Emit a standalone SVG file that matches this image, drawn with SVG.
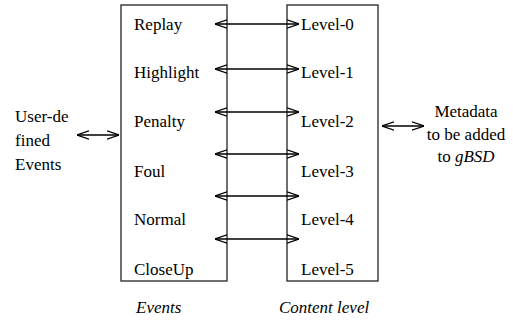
<svg xmlns="http://www.w3.org/2000/svg" width="513" height="320" viewBox="0 0 513 320">
<defs>
<marker id="ah" viewBox="0 0 12 10" refX="12" refY="5" markerWidth="12" markerHeight="10" markerUnits="userSpaceOnUse" orient="auto-start-reverse">
<path d="M0,0.8 L12,5 L0,9.2" fill="none" stroke="#000" stroke-width="1.3"/>
</marker>
<style>
text{font-family:"Liberation Serif","DejaVu Serif",serif;font-size:17px;fill:#000}
.it{font-style:italic}
.box{fill:#fff;stroke:#222;stroke-width:1.3}
.c{stroke:#000;stroke-width:1.4;fill:none;marker-start:url(#ah);marker-end:url(#ah)}
</style>
</defs>
<rect width="513" height="320" fill="#fff"/>
<g id="events">
<rect class="box" x="121" y="5" width="106" height="276"/>
<text x="134" y="30">Replay</text>
<text x="134" y="78">Highlight</text>
<text x="134" y="127">Penalty</text>
<text x="134" y="177">Foul</text>
<text x="134" y="225">Normal</text>
<text x="134" y="275">CloseUp</text>
</g>
<g id="levels">
<rect class="box" x="287" y="5" width="91" height="276"/>
<text x="301" y="30">Level-0</text>
<text x="301" y="78">Level-1</text>
<text x="301" y="127">Level-2</text>
<text x="301" y="177">Level-3</text>
<text x="301" y="225">Level-4</text>
<text x="301" y="275">Level-5</text>
</g>
<g id="user-events">
<text x="15" y="122">User-de</text>
<text x="15" y="146">fined</text>
<text x="15" y="170">Events</text>
</g>
<g id="metadata" text-anchor="middle">
<text x="466" y="117">Metadata</text>
<text x="466" y="140">to be added</text>
<text x="466" y="162">to <tspan class="it">gBSD</tspan></text>
</g>
<g id="captions">
<text class="it" x="136" y="313">Events</text>
<text class="it" x="279" y="313">Content level</text>
</g>
<g id="connectors">
<line class="c" x1="215" y1="24" x2="299" y2="24"/>
<line class="c" x1="215" y1="69" x2="299" y2="69"/>
<line class="c" x1="215" y1="112" x2="299" y2="112"/>
<line class="c" x1="215" y1="154" x2="299" y2="154"/>
<line class="c" x1="215" y1="196" x2="299" y2="196"/>
<line class="c" x1="215" y1="239" x2="299" y2="239"/>
<line class="c" x1="77" y1="135" x2="119" y2="135"/>
<line class="c" x1="382" y1="126" x2="424" y2="126"/>
</g>
</svg>
